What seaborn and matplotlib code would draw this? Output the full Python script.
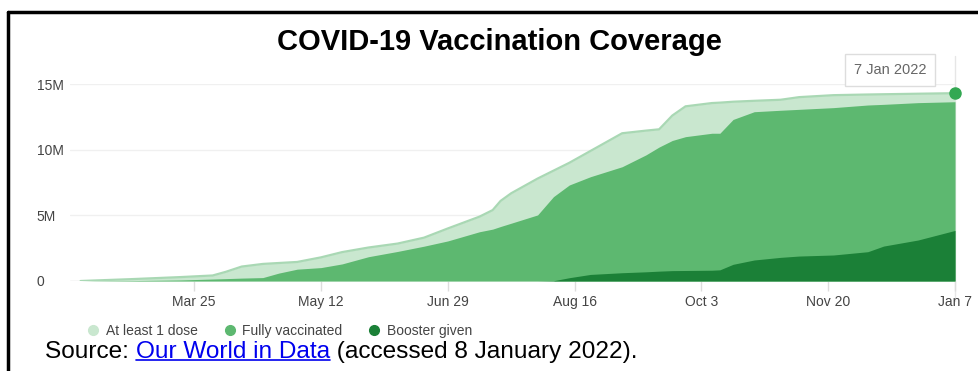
import pandas as pd
import matplotlib.pyplot as plt
from matplotlib.lines import Line2D
import seaborn as sns

# cumulative people (millions)
dates = ["2021-02-10", "2021-03-01", "2021-03-20", "2021-04-01", "2021-04-06",
         "2021-04-12", "2021-04-20", "2021-04-26", "2021-05-03", "2021-05-12",
         "2021-05-20", "2021-05-30", "2021-06-10", "2021-06-20", "2021-06-29",
         "2021-07-11", "2021-07-16", "2021-07-19", "2021-07-23", "2021-08-02",
         "2021-08-08", "2021-08-14", "2021-08-22", "2021-09-03", "2021-09-12",
         "2021-09-17", "2021-09-22", "2021-09-27", "2021-10-07", "2021-10-10",
         "2021-10-15", "2021-10-23", "2021-11-02", "2021-11-09", "2021-11-22",
         "2021-12-05", "2021-12-11", "2021-12-24", "2022-01-07"]
at_least_one = [0.00, 0.14, 0.30, 0.42, 0.70, 1.10, 1.30, 1.37, 1.45, 1.80,
                2.20, 2.55, 2.85, 3.30, 4.00, 4.90, 5.40, 6.10, 6.68, 7.80,
                8.40, 9.00, 9.90, 11.25, 11.45, 11.55, 12.60, 13.30, 13.55, 13.58,
                13.65, 13.72, 13.80, 14.00, 14.15, 14.20, 14.22, 14.26, 14.30]
fully_vaccinated = [0.00, 0.03, 0.08, 0.15, 0.18, 0.22, 0.26, 0.60, 0.90, 1.02,
                    1.30, 1.85, 2.25, 2.65, 3.05, 3.75, 3.95, 4.15, 4.40, 5.03,
                    6.42, 7.31, 7.94, 8.70, 9.60, 10.20, 10.70, 10.99, 11.25, 11.25,
                    12.30, 12.89, 13.00, 13.07, 13.20, 13.40, 13.45, 13.58, 13.65]
booster_given = [0, 0, 0, 0, 0, 0, 0, 0, 0, 0,
                 0, 0, 0, 0, 0, 0, 0, 0, 0, 0,
                 0.02, 0.25, 0.50, 0.63, 0.70, 0.75, 0.79, 0.80, 0.82, 0.85,
                 1.27, 1.60, 1.80, 1.90, 1.98, 2.23, 2.66, 3.12, 3.85]

series_names = ["At least 1 dose", "Fully vaccinated", "Booster given"]
colors = ["#c9e7cf", "#5db870", "#1b8037"]

tick_dates = ["2021-03-25", "2021-05-12", "2021-06-29", "2021-08-16",
              "2021-10-03", "2021-11-20", "2022-01-07"]
tick_labels = ["Mar 25", "May 12", "Jun 29", "Aug 16", "Oct 3", "Nov 20", "Jan 7"]
y_ticks = [0, 5e6, 10e6, 15e6]
y_labels = ["0", "5M", "10M", "15M"]

df = pd.DataFrame({
    "date": pd.to_datetime(dates),
    "one": [v * 1e6 for v in at_least_one],
    "full": [v * 1e6 for v in fully_vaccinated],
    "boost": [v * 1e6 for v in booster_given],
})

sns.set_theme(style="white")
plt.rcParams["font.family"] = ["Liberation Sans", "DejaVu Sans"]

fig = plt.figure(figsize=(9.79, 3.71), dpi=100)
ax = fig.add_axes([70 / 979, (371 - 281) / 371, 885 / 979, 197 / 371])

ax.fill_between(df["date"], df["one"], color=colors[0], lw=0)
sns.lineplot(data=df, x="date", y="one", ax=ax, color="#a9d8b4", lw=1.6)
ax.fill_between(df["date"], df["full"], color=colors[1], lw=0)
ax.fill_between(df["date"], df["boost"], color=colors[2], lw=0)

last = df.iloc[-1]
ax.plot(last["date"], last["one"], "o", color="#33a852", ms=8, clip_on=False, zorder=5)
ax.axvline(last["date"], ymin=-0.1, ymax=1.14, color="#e6e6e6", lw=1, clip_on=False, zorder=0)

ax.set_xlim(pd.Timestamp("2021-02-06"), pd.Timestamp("2022-01-07"))
ax.set_ylim(0, 15e6)
ax.set_yticks(y_ticks)
ax.set_yticklabels(y_labels)
ax.set_xticks(pd.to_datetime(tick_dates))
ax.set_xticklabels(tick_labels)
ax.set_xlabel("")
ax.set_ylabel("")
ax.grid(axis="y", color="#f0f0f0", lw=1)
ax.grid(axis="x", visible=False)
ax.axhline(0, color="#e3e3e3", lw=1, zorder=0)
for s in ax.spines.values():
    s.set_visible(False)
ax.tick_params(axis="y", length=0, pad=24, labelsize=10, labelcolor="#444444")
for lab in ax.get_yticklabels():
    lab.set_ha("left")
ax.tick_params(axis="x", length=7, width=1, color="#dddddd", pad=3,
               labelsize=10, labelcolor="#444444", bottom=True)

# tooltip box
fig.text(890 / 979, (371 - 70) / 371, "7 Jan 2022", ha="center", va="center",
         fontsize=10.5, color="#666666",
         bbox=dict(boxstyle="square,pad=0.6", fc="white", ec="#dddddd", lw=1))

fig.text(499 / 979, (371 - 42) / 371, "COVID-19 Vaccination Coverage", ha="center",
         va="center", fontsize=21, fontweight="bold", color="black")

handles = [Line2D([], [], marker="o", ls="", color=c, ms=7) for c in colors]
leg = fig.legend(handles, series_names, loc="center left",
                 bbox_to_anchor=(74 / 979, (371 - 331) / 371), ncol=3, frameon=False,
                 fontsize=10, handletextpad=0.4, columnspacing=1.8, handlelength=1)
for t in leg.get_texts():
    t.set_color("#444444")

# source line with link-coloured middle part
fig.canvas.draw()
r = fig.canvas.get_renderer()
ypos = (371 - 352) / 371
t1 = fig.text(45 / 979, ypos, "Source: ", fontsize=17.6, va="center", color="black")
x = t1.get_window_extent(r).x1
t2 = fig.text(x / 979, ypos, "Our World in Data", fontsize=17.6, va="center", color="#0000ee")
bb = t2.get_window_extent(r)
fig.add_artist(Line2D([bb.x0 / 979, bb.x1 / 979], [(bb.y0 + 3) / 371] * 2,
                      color="#0000ee", lw=1.2))
fig.text(bb.x1 / 979, ypos, " (accessed 8 January 2022).", fontsize=17.6, va="center",
         color="black")

# frame lines
fig.add_artist(Line2D([8 / 979, 8 / 979], [0, (371 - 12) / 371], color="black", lw=2.5))
fig.add_artist(Line2D([8 / 979, 1], [(371 - 12) / 371] * 2, color="black", lw=2.5))

fig.savefig("out.png", dpi=100)
